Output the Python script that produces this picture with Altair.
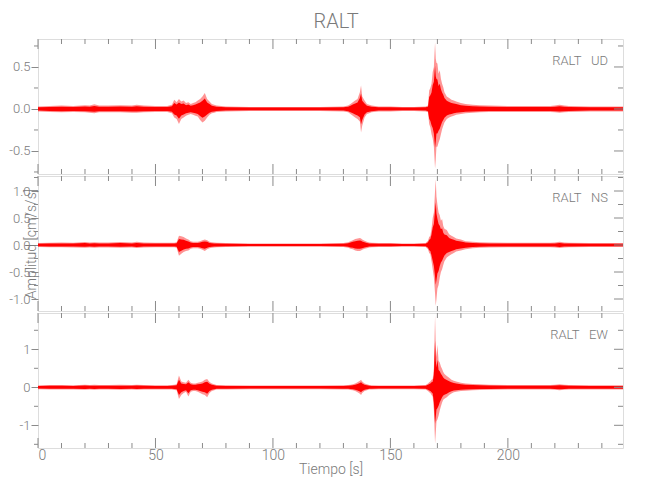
import altair as alt
import pandas as pd

STATION = "RALT"
COMPONENTS = ["UD", "NS", "EW"]

TIME = [0, 5, 10, 15, 20, 22, 24, 26, 30, 35, 40, 42, 45, 50, 55,
        57, 58, 59, 60, 61, 62, 63, 64, 65, 66, 67, 68, 69, 70, 71, 72, 73, 74, 75, 76,
        80, 90, 100, 110, 120, 130,
        132, 133, 134, 135, 136, 137, 137.5, 138, 139, 140, 141, 142,
        145, 150, 155, 160, 165,
        166, 166.5, 167, 167.5, 168, 168.5, 169, 169.3, 169.6, 170, 170.5, 171, 171.5, 172, 172.5, 173,
        174, 175, 176, 177, 178, 180, 182, 185, 188, 192,
        200, 210, 218, 220, 222, 224, 226, 235, 249]

UD_HI = [0.030, 0.035, 0.040, 0.035, 0.045, 0.040, 0.055, 0.040, 0.040, 0.045, 0.040, 0.050, 0.040, 0.035, 0.035,
         0.050, 0.110, 0.080, 0.120, 0.090, 0.100, 0.070, 0.080, 0.060, 0.070, 0.080, 0.100, 0.120, 0.150, 0.190, 0.120, 0.090, 0.060, 0.050, 0.040,
         0.030, 0.025, 0.025, 0.025, 0.025, 0.030,
         0.040, 0.060, 0.080, 0.100, 0.120, 0.200, 0.280, 0.150, 0.100, 0.060, 0.050, 0.040,
         0.030, 0.030, 0.025, 0.025, 0.030,
         0.040, 0.220, 0.250, 0.300, 0.440, 0.500, 0.790, 0.600, 0.550, 0.540, 0.420, 0.460, 0.360, 0.300, 0.260, 0.200,
         0.150, 0.130, 0.110, 0.100, 0.090, 0.070, 0.060, 0.050, 0.045, 0.040,
         0.035, 0.035, 0.035, 0.040, 0.050, 0.040, 0.035, 0.030, 0.030]
UD_LO = [-0.030, -0.035, -0.040, -0.035, -0.040, -0.045, -0.050, -0.040, -0.040, -0.040, -0.045, -0.045, -0.040, -0.035, -0.035,
         -0.050, -0.100, -0.120, -0.180, -0.120, -0.100, -0.080, -0.070, -0.060, -0.070, -0.080, -0.090, -0.130, -0.160, -0.140, -0.100, -0.070, -0.050, -0.045, -0.035,
         -0.030, -0.025, -0.025, -0.025, -0.025, -0.030,
         -0.040, -0.060, -0.080, -0.100, -0.120, -0.150, -0.280, -0.200, -0.100, -0.060, -0.050, -0.040,
         -0.030, -0.030, -0.025, -0.025, -0.030,
         -0.040, -0.180, -0.220, -0.300, -0.350, -0.450, -0.710, -0.600, -0.450, -0.450, -0.400, -0.360, -0.300, -0.240, -0.200, -0.160,
         -0.120, -0.100, -0.090, -0.080, -0.070, -0.060, -0.050, -0.045, -0.040, -0.035,
         -0.035, -0.035, -0.035, -0.040, -0.045, -0.040, -0.035, -0.030, -0.030]

NS_HI = [0.035, 0.040, 0.045, 0.040, 0.055, 0.045, 0.050, 0.045, 0.045, 0.055, 0.045, 0.060, 0.045, 0.040, 0.040,
         0.040, 0.040, 0.050, 0.170, 0.160, 0.150, 0.120, 0.100, 0.070, 0.060, 0.060, 0.060, 0.070, 0.090, 0.100, 0.090, 0.060, 0.050, 0.045, 0.040,
         0.035, 0.030, 0.030, 0.030, 0.030, 0.035,
         0.050, 0.070, 0.090, 0.110, 0.120, 0.130, 0.120, 0.100, 0.080, 0.060, 0.045, 0.040,
         0.035, 0.035, 0.030, 0.030, 0.035,
         0.080, 0.150, 0.170, 0.300, 0.500, 0.600, 1.000, 1.220, 0.900, 0.750, 0.600, 0.550, 0.450, 0.480, 0.350, 0.300,
         0.280, 0.200, 0.170, 0.150, 0.120, 0.100, 0.070, 0.060, 0.050, 0.045,
         0.040, 0.040, 0.040, 0.045, 0.060, 0.045, 0.040, 0.035, 0.035]
NS_LO = [-0.035, -0.040, -0.040, -0.045, -0.050, -0.045, -0.050, -0.045, -0.045, -0.050, -0.045, -0.055, -0.045, -0.040, -0.040,
         -0.040, -0.040, -0.050, -0.200, -0.160, -0.130, -0.110, -0.100, -0.070, -0.060, -0.060, -0.060, -0.070, -0.090, -0.110, -0.080, -0.060, -0.050, -0.045, -0.040,
         -0.035, -0.030, -0.030, -0.030, -0.030, -0.035,
         -0.050, -0.070, -0.080, -0.100, -0.110, -0.110, -0.100, -0.090, -0.070, -0.060, -0.045, -0.040,
         -0.035, -0.035, -0.030, -0.030, -0.035,
         -0.080, -0.150, -0.170, -0.300, -0.450, -0.600, -0.900, -1.130, -1.000, -0.810, -0.740, -0.600, -0.500, -0.450, -0.370, -0.300,
         -0.230, -0.200, -0.170, -0.150, -0.120, -0.100, -0.080, -0.060, -0.050, -0.045,
         -0.040, -0.040, -0.040, -0.045, -0.055, -0.045, -0.040, -0.035, -0.035]

EW_HI = [0.050, 0.060, 0.060, 0.055, 0.070, 0.060, 0.065, 0.060, 0.060, 0.065, 0.060, 0.070, 0.060, 0.055, 0.055,
         0.060, 0.070, 0.080, 0.310, 0.150, 0.130, 0.120, 0.200, 0.120, 0.100, 0.100, 0.120, 0.130, 0.150, 0.200, 0.220, 0.140, 0.100, 0.080, 0.060,
         0.055, 0.050, 0.050, 0.050, 0.050, 0.055,
         0.060, 0.070, 0.080, 0.100, 0.130, 0.170, 0.200, 0.150, 0.100, 0.080, 0.060, 0.055,
         0.050, 0.050, 0.050, 0.050, 0.060,
         0.100, 0.130, 0.150, 0.200, 0.220, 0.500, 1.880, 1.100, 0.800, 1.120, 0.700, 0.650, 0.550, 0.480, 0.400, 0.350,
         0.300, 0.250, 0.200, 0.170, 0.150, 0.120, 0.100, 0.090, 0.080, 0.070,
         0.060, 0.060, 0.060, 0.070, 0.080, 0.070, 0.060, 0.055, 0.055]
EW_LO = [-0.050, -0.060, -0.060, -0.055, -0.065, -0.060, -0.065, -0.060, -0.060, -0.065, -0.060, -0.065, -0.060, -0.055, -0.055,
         -0.060, -0.070, -0.080, -0.310, -0.200, -0.150, -0.120, -0.240, -0.120, -0.100, -0.100, -0.120, -0.150, -0.180, -0.200, -0.260, -0.150, -0.100, -0.080, -0.060,
         -0.055, -0.050, -0.050, -0.050, -0.050, -0.055,
         -0.060, -0.070, -0.080, -0.100, -0.130, -0.170, -0.200, -0.150, -0.100, -0.080, -0.060, -0.055,
         -0.050, -0.050, -0.050, -0.050, -0.060,
         -0.100, -0.130, -0.150, -0.200, -0.250, -0.600, -1.480, -1.200, -0.900, -0.850, -0.750, -0.610, -0.500, -0.400, -0.330, -0.300,
         -0.260, -0.200, -0.160, -0.130, -0.120, -0.100, -0.090, -0.080, -0.070, -0.065,
         -0.060, -0.060, -0.060, -0.065, -0.075, -0.065, -0.060, -0.055, -0.055]

X_MAJOR = [0, 50, 100, 150, 200]
X_MINOR = [10, 20, 30, 40, 60, 70, 80, 90, 110, 120, 130, 140, 160, 170, 180, 190, 210, 220, 230, 240]

UD_YMAJOR = [-0.5, 0.0, 0.5]
UD_YMINOR = [-0.75, -0.25, 0.25, 0.75]
NS_YMAJOR = [-1.0, -0.5, 0.0, 0.5, 1.0]
NS_YMINOR = [-0.75, -0.25, 0.25, 0.75, 1.25]
EW_YMAJOR = [-1, 0, 1]
EW_YMINOR = [-1.5, -0.5, 0.5, 1.5]

UD_DOMAIN = [-0.774, 0.833]
NS_DOMAIN = [-1.222, 1.278]
EW_DOMAIN = [-1.597, 1.955]
X_DOMAIN = [0, 249]

W, H = 585, 135
GRAY = "#8a8a8a"
TXT = "#7a7a7a"
RED = "#ff0000"
FONT = "Roboto"
FW = 300
HYPHEN = "replace(datum.label, '\u2212', '-')"


def panel(hi, lo, ydom, ymaj, ymin, comp, fmt, show_x=False, ytitle=None):
    xs = alt.Scale(domain=X_DOMAIN, nice=False, zero=False)
    ys = alt.Scale(domain=ydom, nice=False, zero=False)
    df = pd.DataFrame({"t": TIME, "hi": hi, "lo": lo})

    if show_x:
        xaxis = alt.Axis(values=X_MAJOR, ticks=False, domain=False, grid=False,
                         labelFontSize=14, labelColor=TXT, labelFont=FONT, labelFontWeight=FW,
                         labelPadding=0,
                         title="Tiempo [s]", titleFontSize=14, titleColor=TXT, titleFont=FONT,
                         titleFontWeight=FW, titlePadding=0)
    else:
        xaxis = None

    yaxis_kw = dict(values=ymaj, format=fmt, labelExpr=HYPHEN, ticks=True, tickSize=7,
                    tickColor=GRAY, domain=False, grid=False, labelFontSize=13,
                    labelColor=TXT, labelFont=FONT, labelFontWeight=FW, labelPadding=1)
    if ytitle:
        yaxis = alt.Axis(title=ytitle, titleFontSize=14, titleColor=TXT, titleFont=FONT,
                         titleFontWeight=FW, titleX=-7, titleY=H / 2,
                         titleAlign="center", titleBaseline="middle", **yaxis_kw)
    else:
        yaxis = alt.Axis(title=None, **yaxis_kw)

    base = alt.Chart(df)
    outer = base.mark_area(color=RED, opacity=0.42).encode(
        x=alt.X("t:Q", scale=xs, axis=xaxis),
        y=alt.Y("hi:Q", scale=ys, axis=yaxis),
        y2=alt.Y2("lo:Q"),
    )
    inner = base.transform_calculate(
        chi="datum.hi*0.65", clo="datum.lo*0.65"
    ).mark_area(color=RED, opacity=1).encode(
        x=alt.X("t:Q", scale=xs, axis=None),
        y=alt.Y("chi:Q", scale=ys, axis=None),
        y2=alt.Y2("clo:Q"),
    )

    xmaj = pd.DataFrame({"t": X_MAJOR})
    xmin = pd.DataFrame({"t": X_MINOR})
    ymj = pd.DataFrame({"v": ymaj})
    ymn = pd.DataFrame({"v": ymin})

    def xt(d, y0, y1):
        return alt.Chart(d).mark_rule(color=GRAY, strokeWidth=1).encode(
            x=alt.X("t:Q", scale=xs, axis=None), y=alt.value(y0), y2=alt.value(y1))

    def yt(d, x0, x1):
        return alt.Chart(d).mark_rule(color=GRAY, strokeWidth=1).encode(
            y=alt.Y("v:Q", scale=ys, axis=None), x=alt.value(x0), x2=alt.value(x1))

    ticks = [
        xt(xmaj, 0, 10), xt(xmin, 0, 5), xt(xmaj, H, H - 10), xt(xmin, H, H - 5),
        yt(ymj, W, W - 9), yt(ymn, W, W - 5), yt(ymn, 0, -4),
    ]

    label = alt.Chart(pd.DataFrame({"s": [f"{STATION}\u00a0\u00a0\u00a0{comp}"]})).mark_text(
        align="right", baseline="middle", fontSize=13, color=TXT, font=FONT, fontWeight=FW
    ).encode(x=alt.value(570), y=alt.value(22), text="s:N")

    return alt.layer(outer, inner, *ticks, label).resolve_axis(
        x="independent", y="independent"
    ).properties(width=W, height=H)


p1 = panel(UD_HI, UD_LO, UD_DOMAIN, UD_YMAJOR, UD_YMINOR, COMPONENTS[0], ".1f")
p2 = panel(NS_HI, NS_LO, NS_DOMAIN, NS_YMAJOR, NS_YMINOR, COMPONENTS[1], ".1f",
           ytitle="Amplitud [cm/s/s]")
p3 = panel(EW_HI, EW_LO, EW_DOMAIN, EW_YMAJOR, EW_YMINOR, COMPONENTS[2], "d", show_x=True)

chart = alt.vconcat(p1, p2, p3, spacing=0).properties(
    title=alt.TitleParams(STATION, fontSize=20, color=TXT, font=FONT, fontWeight=FW,
                          anchor="middle", offset=6, dx=20),
    padding={"left": 0, "top": 4, "right": 5, "bottom": 5},
).configure_view(stroke=GRAY, strokeWidth=1).configure(background="white")

chart.save("out.html", embed_options={"renderer": "svg", "actions": False})
